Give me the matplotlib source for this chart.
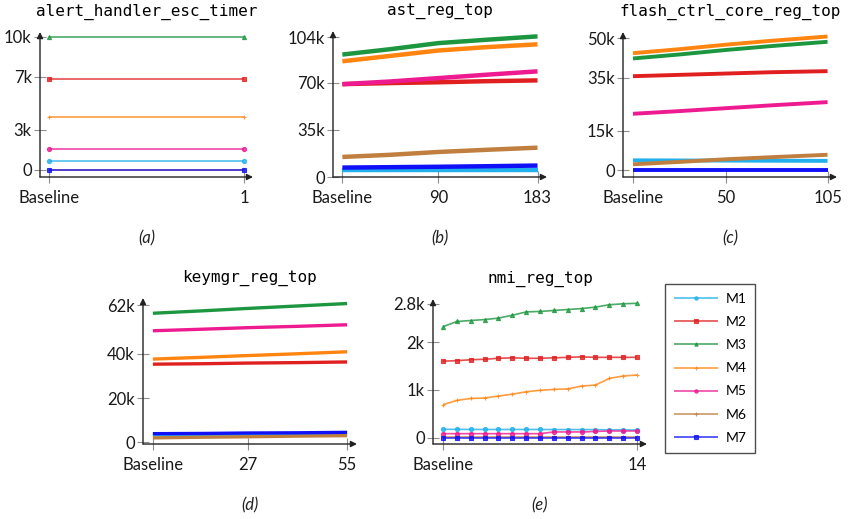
import matplotlib
matplotlib.use("Agg")
import matplotlib.pyplot as plt

plt.rcParams['font.family'] = ['Lato', 'DejaVu Sans']

NAMES = ["M1", "M2", "M3", "M4", "M5", "M6", "M7"]
COLORS = ["#22b0ec", "#e02020", "#1d9640", "#ff8410", "#ee1a90", "#c07f3e", "#1010f8"]
MARKERS = ["o", "s", "^", "+", "o", "+", "s"]

# (a) alert_handler_esc_timer
a_x = [0, 1]
a_vals = {
    "M1": [680, 680],
    "M2": [6850, 6850],
    "M3": [10000, 10000],
    "M4": [3970, 3970],
    "M5": [1580, 1580],
    "M6": [20, 20],
    "M7": [0, 0],
}

# (b) ast_reg_top
b_x = [0, 45, 90, 135, 183]
b_vals = {
    "M1": [5000, 5000, 5000, 5000, 5000],
    "M2": [69000, 69800, 70400, 71200, 71800],
    "M3": [91000, 95000, 99500, 102000, 104500],
    "M4": [86000, 90000, 94000, 96500, 98600],
    "M5": [69000, 71000, 73500, 76000, 78500],
    "M6": [14900, 16500, 18600, 20200, 21800],
    "M7": [7000, 7300, 7600, 8000, 8500],
}

# (c) flash_ctrl_core_reg_top
c_x = [0, 25, 50, 75, 105]
c_vals = {
    "M1": [3800, 3750, 3700, 3650, 3600],
    "M2": [35600, 36100, 36600, 37100, 37500],
    "M3": [42300, 43800, 45500, 47000, 48600],
    "M4": [44300, 45800, 47500, 49000, 50600],
    "M5": [21400, 22400, 23500, 24600, 25800],
    "M6": [2300, 3200, 4200, 5000, 5900],
    "M7": [300, 300, 300, 300, 300],
}

# (d) keymgr_reg_top
d_x = [0, 14, 27, 41, 55]
d_vals = {
    "M1": [3400, 3500, 3600, 3600, 3700],
    "M2": [35300, 35500, 35800, 36000, 36300],
    "M3": [58300, 59400, 60500, 61600, 62700],
    "M4": [37600, 38400, 39200, 40000, 40900],
    "M5": [50400, 51100, 51800, 52400, 53100],
    "M6": [2000, 2300, 2500, 2800, 3000],
    "M7": [3900, 4000, 4200, 4300, 4500],
}

# (e) nmi_reg_top
e_x = list(range(15))
e_vals = {
    "M1": [175, 175, 172, 172, 172, 172, 172, 172, 170, 170, 170, 168, 165, 163, 160],
    "M2": [1600, 1610, 1630, 1640, 1660, 1670, 1660, 1660, 1670, 1680, 1690, 1680, 1680, 1680, 1680],
    "M3": [2320, 2430, 2450, 2470, 2500, 2560, 2630, 2640, 2660, 2680, 2700, 2730, 2780, 2800, 2810],
    "M4": [690, 780, 820, 830, 870, 910, 960, 990, 1010, 1020, 1080, 1100, 1240, 1290, 1310],
    "M5": [84, 84, 84, 84, 84, 84, 84, 84, 120, 120, 120, 130, 140, 140, 140],
    "M6": [20, 20, 20, 20, 20, 20, 20, 20, 20, 20, 20, 20, 20, 20, 20],
    "M7": [0, 0, 0, 0, 0, 0, 0, 0, 0, 0, 0, 0, 0, 0, 0],
}

W, H = 849, 519
fig = plt.figure(figsize=(W / 100, H / 100), dpi=100)


def make_axes(l, r, b, t):
    return fig.add_axes([l / W, 1 - b / H, (r - l) / W, (b - t) / H])


def style(ax, title, xticks, xlabels, yticks, ylabels, xlim, ylim, caption, cap_y):
    ax.set_xlim(*xlim)
    ax.set_ylim(*ylim)
    for s in ax.spines.values():
        s.set_visible(False)
    arrow = dict(arrowstyle="-|>", color="#222222", lw=1.0, mutation_scale=9,
                 shrinkA=0, shrinkB=0)
    ax.annotate("", xy=(1, 0), xytext=(0, 0), xycoords="axes fraction",
                arrowprops=arrow, annotation_clip=False)
    ax.annotate("", xy=(0, 1), xytext=(0, 0), xycoords="axes fraction",
                arrowprops=arrow, annotation_clip=False)
    ax.set_xticks(xticks)
    ax.set_xticklabels(xlabels)
    ax.set_yticks(yticks)
    ax.set_yticklabels(ylabels)
    ax.tick_params(direction="inout", length=8, width=0.8, color="#909090",
                   labelsize=12, labelcolor="#1a1a1a", pad=2)
    ax.tick_params(axis="x", pad=5.5)
    ax.set_title(title, family="DejaVu Sans Mono", fontsize=11.5, pad=12)
    ax.text(0.5, cap_y, caption, transform=ax.transAxes, ha="center", va="center",
            fontsize=12, style="italic", color="#222222")
    ax.patch.set_alpha(0)


def draw(ax, x, vals, lw, ms, alpha):
    for name, c, m in zip(NAMES, COLORS, MARKERS):
        ax.plot(x, vals[name], color=c, lw=lw, marker=m, ms=ms, mew=0.8,
                alpha=alpha, clip_on=False, label=name, solid_capstyle="butt")


# (a)
ax = make_axes(40, 253, 177, 32)
draw(ax, a_x, a_vals, 1.2, 3, 0.8)
style(ax, "alert_handler_esc_timer", [0, 1], ["Baseline", "1"],
      [0, 3000, 7000, 10000], ["0", "3k", "7k", "10k"],
      (-0.048, 1.046), (-525, 10350), "(a)", -0.42)

# (b)
ax = make_axes(333, 547, 177, 31)
draw(ax, b_x, b_vals, 3.2, 0, 1.0)
style(ax, "ast_reg_top", [0, 90, 183], ["Baseline", "90", "183"],
      [0, 35000, 70000, 104000], ["0", "35k", "70k", "104k"],
      (-8.8, 191.9), (0, 108500), "(b)", -0.42)

# (c)
ax = make_axes(623, 837, 177, 32)
draw(ax, c_x, c_vals, 2.8, 0, 1.0)
style(ax, "flash_ctrl_core_reg_top", [0, 50, 105], ["Baseline", "50", "105"],
      [0, 15000, 35000, 50000], ["0", "15k", "35k", "50k"],
      (-5.4, 110.1), (-2500, 52300), "(c)", -0.42)

# (d)
ax = make_axes(143, 357, 444, 298)
draw(ax, d_x, d_vals, 2.4, 0, 1.0)
style(ax, "keymgr_reg_top", [0, 27, 55], ["Baseline", "27", "55"],
      [0, 20000, 40000, 62000], ["0", "20k", "40k", "62k"],
      (-2.8, 57.8), (-770, 65200), "(d)", -0.42)

# (e)
ax = make_axes(433, 647, 444, 299)
draw(ax, e_x, e_vals, 1.2, 3, 0.8)
style(ax, "nmi_reg_top", [0, 14], ["Baseline", "14"],
      [0, 1000, 2000, 2800], ["0", "1k", "2k", "2.8k"],
      (-0.72, 14.72), (-132, 2900), "(e)", -0.42)

handles, labels = ax.get_legend_handles_labels()
leg = fig.legend(handles, labels, loc="upper left",
                 bbox_to_anchor=(665 / W, 1 - 284 / H), frameon=True,
                 fancybox=False, edgecolor="#222222", fontsize=10,
                 handlelength=3.2, handletextpad=0.5, labelspacing=0.8,
                 borderpad=0.65, borderaxespad=0, markerscale=0.8)
leg.get_frame().set_linewidth(1.0)

fig.savefig("out.png", dpi=100)
